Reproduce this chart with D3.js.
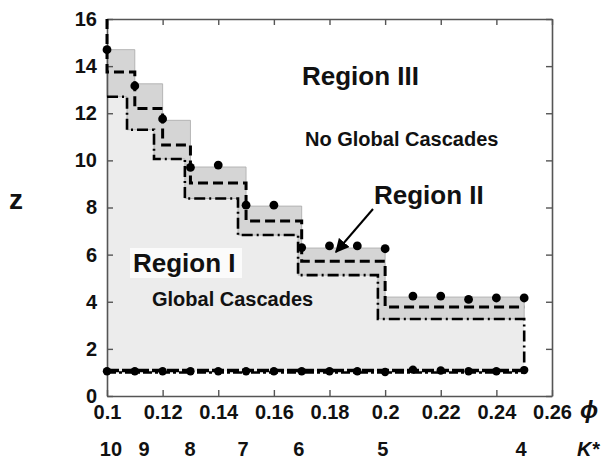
<!DOCTYPE html>
<html><head><meta charset="utf-8">
<script src="https://cdn.jsdelivr.net/npm/d3@7"></script>
<style>
html,body{margin:0;padding:0;background:#fff;}
svg text{font-family:"Liberation Sans",Arial,Helvetica,sans-serif;font-weight:bold;fill:#111;}
</style></head>
<body>
<svg id="c" width="601" height="459"></svg>
<script>
// ---- data ----
const upperBreaks = [0.10, 0.11, 0.12, 0.13, 0.15, 0.17, 0.20, 0.25];
const upperZ      = [14.7, 13.25, 11.7, 9.72, 8.06, 6.28, 4.2];
const dashedZ     = [13.75, 12.2, 10.65, 9.04, 7.43, 5.72, 3.78];
const dashDotBreaks = [0.10, 0.1072, 0.1169, 0.128, 0.1471, 0.1687, 0.1974, 0.25];
const dashDotZ      = [12.7, 11.3, 10.06, 8.38, 6.83, 5.13, 3.27];
const dotPhi   = [0.10,0.11,0.12,0.13,0.14,0.15,0.16,0.17,0.18,0.19,0.20,0.21,0.22,0.23,0.24,0.25];
const upperDots= [14.7,13.16,11.76,9.7,9.8,8.1,8.1,6.3,6.37,6.37,6.25,4.24,4.24,4.1,4.16,4.16];
const lowerDots= [1.05,1.05,1.05,1.05,1.05,1.05,1.05,1.05,1.05,1.05,1.02,1.12,1.08,1.05,1.05,1.1];
const lowerLineZ = 1.05;
const xTicks = [0.10,0.12,0.14,0.16,0.18,0.20,0.22,0.24,0.26];
const xTickLabels = ["0.1","0.12","0.14","0.16","0.18","0.2","0.22","0.24","0.26"];
const yTicks = [0,2,4,6,8,10,12,14,16];
const kLabels = ["10","9","8","7","6","5","4"];
const kLabelPhi = [0.1014,0.1133,0.1299,0.1489,0.1690,0.1992,0.2489];

// ---- scales ----
const x = d3.scaleLinear().domain([0.10,0.26]).range([107,552]);
const y = d3.scaleLinear().domain([0,16]).range([396,19]);
const svg = d3.select("#c");

function stepPts(breaks, vals){
  const p=[];
  vals.forEach((v,i)=>{p.push([breaks[i],v]);p.push([breaks[i+1],v]);});
  return p;
}
const line = d3.line().x(d=>x(d[0])).y(d=>y(d[1]));

const upPts = stepPts(upperBreaks, upperZ);
const ddPts = stepPts(dashDotBreaks, dashDotZ);
const dashPts = stepPts(upperBreaks, dashedZ);

// light region I
const lightPoly = [[0.10,lowerLineZ], ...upPts, [0.25,lowerLineZ]];
svg.append("path").attr("d", line(lightPoly)+"Z").attr("fill","#ececec");
// dark region II
const darkPoly = [...upPts, ...ddPts.slice().reverse()];
svg.append("path").attr("d", line(darkPoly)+"Z").attr("fill","#d5d5d5")
  .attr("stroke","#aaa").attr("stroke-width",0.8);

// white box behind Region I
svg.append("rect").attr("x",130).attr("y",248).attr("width",112).attr("height",30).attr("fill","#fbfbfb");

// axes
const fmtX = d=>xTickLabels[xTicks.indexOf(d)];
const gB = svg.append("g").attr("transform",`translate(0,${y(0)})`)
  .call(d3.axisBottom(x).tickValues(xTicks).tickFormat(fmtX).tickSizeInner(-6).tickSizeOuter(0).tickPadding(9));
const gT = svg.append("g").attr("transform",`translate(0,${y(16)})`)
  .call(d3.axisTop(x).tickValues(xTicks).tickFormat("").tickSizeInner(-6).tickSizeOuter(0));
const gL = svg.append("g").attr("transform",`translate(${x(0.10)},0)`)
  .call(d3.axisLeft(y).tickValues(yTicks).tickFormat(d3.format("d")).tickSizeInner(-6).tickSizeOuter(0).tickPadding(10));
const gR = svg.append("g").attr("transform",`translate(${x(0.26)},0)`)
  .call(d3.axisRight(y).tickValues(yTicks).tickFormat("").tickSizeInner(-6).tickSizeOuter(0));
[gB,gT,gL,gR].forEach(g=>{
  g.selectAll("path.domain").attr("stroke","#555").attr("stroke-width",1.6);
  g.selectAll(".tick line").attr("stroke","#555").attr("stroke-width",1.4);
  g.selectAll(".tick text").attr("font-size",20).attr("font-family","Liberation Sans, Arial, sans-serif").attr("font-weight","bold").attr("fill","#111");
});

// dash-dot line
svg.append("path").attr("d", line([[0.10,dashDotZ[0]], ...ddPts, [0.25,lowerLineZ]]))
  .attr("fill","none").attr("stroke","#000").attr("stroke-width",2.6).attr("stroke-dasharray","11,4,2,4");
// dashed line
svg.append("path").attr("d", line([[0.10,16], ...dashPts]))
  .attr("fill","none").attr("stroke","#000").attr("stroke-width",3).attr("stroke-dasharray","10,5");
// lower lines
svg.append("path").attr("d", line([[0.10,lowerLineZ+0.03],[0.25,lowerLineZ+0.03]]))
  .attr("fill","none").attr("stroke","#000").attr("stroke-width",3.4).attr("stroke-dasharray","12,3");
svg.append("path").attr("d", line([[0.10,lowerLineZ-0.05],[0.25,lowerLineZ-0.05]]))
  .attr("fill","none").attr("stroke","#000").attr("stroke-width",2.6).attr("stroke-dasharray","9,3,3,3");

// dots
svg.append("g").selectAll("circle.u").data(dotPhi).join("circle")
  .attr("cx",d=>x(d)).attr("cy",(d,i)=>y(upperDots[i])).attr("r",4.4).attr("fill","#000");
svg.append("g").selectAll("circle.l").data(dotPhi).join("circle")
  .attr("cx",d=>x(d)).attr("cy",(d,i)=>y(lowerDots[i])).attr("r",4.2).attr("fill","#000");

// labels
svg.append("text").attr("x",302).attr("y",85).attr("font-size",26).text("Region III");
svg.append("text").attr("x",305).attr("y",146).attr("font-size",20).text("No Global Cascades");
svg.append("text").attr("x",374).attr("y",204).attr("font-size",26).text("Region II");
svg.append("text").attr("x",133).attr("y",272).attr("font-size",26).text("Region I");
svg.append("text").attr("x",152).attr("y",306).attr("font-size",20).text("Global Cascades");

// arrow
svg.append("defs").append("marker").attr("id","ah").attr("viewBox","0 0 10 10")
  .attr("refX",9).attr("refY",5).attr("markerWidth",7).attr("markerHeight",7).attr("orient","auto")
  .append("path").attr("d","M0,0 L10,5 L0,10 Z").attr("fill","#000");
svg.append("line").attr("x1",373).attr("y1",209).attr("x2",336).attr("y2",252)
  .attr("stroke","#000").attr("stroke-width",2).attr("marker-end","url(#ah)");

// axis titles
svg.append("text").attr("x",9).attr("y",209).attr("font-size",28).text("z");
svg.append("text").attr("x",580).attr("y",418).attr("font-size",24)
  .attr("font-family","DejaVu Serif, serif").attr("font-style","italic").attr("font-weight","normal").text("ϕ");
svg.append("text").attr("x",577).attr("y",456).attr("font-size",20).attr("font-style","italic").text("K*");

// K* labels
svg.append("g").selectAll("text").data(kLabels).join("text")
  .attr("x",(d,i)=>x(kLabelPhi[i])).attr("y",456).attr("text-anchor","middle").attr("font-size",20).text(d=>d);
</script>
</body></html>
